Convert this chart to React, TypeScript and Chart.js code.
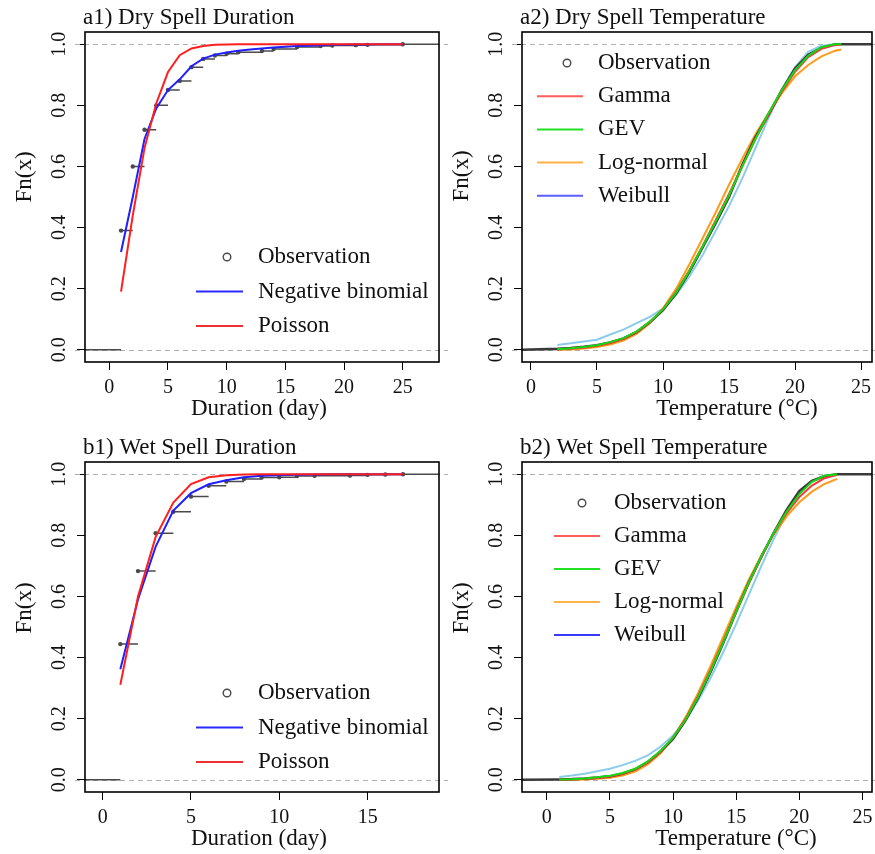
import React, { useEffect, useRef } from "react";
import { Chart, registerables } from "chart.js";
Chart.register(...registerables);

const FONT = '"Liberation Serif", "Times New Roman", serif';

// ---------------- data ----------------
const yTickValues = [0, 0.2, 0.4, 0.6, 0.8, 1.0];
const yTickLabels = ["0.0", "0.2", "0.4", "0.6", "0.8", "1.0"];
const dryDurTicks = [0, 5, 10, 15, 20, 25];
const wetDurTicks = [0, 5, 10, 15];
const tempTicks = [0, 5, 10, 15, 20, 25];

// a1) dry spell duration
const dryDurObsX = [1, 2, 3, 4, 5, 6, 7, 8, 9, 10, 11, 13, 14, 16, 18, 19, 21, 22, 25];
const dryDurObsF = [0.39, 0.60, 0.72, 0.80, 0.85, 0.88, 0.925, 0.952, 0.963, 0.969, 0.974, 0.978, 0.984, 0.991, 0.994, 0.996, 0.997, 0.998, 1.0];
const dryDurFitX = [1, 2, 3, 4, 5, 6, 7, 8, 9, 10, 11, 12, 13, 14, 15, 16, 17, 18, 19, 20, 21, 22, 23, 24, 25];
const dryDurNegBin = [0.32, 0.50, 0.69, 0.79, 0.85, 0.885, 0.928, 0.953, 0.966, 0.973, 0.979, 0.983, 0.986, 0.989, 0.992, 0.994, 0.995, 0.997, 0.998, 0.998, 0.999, 0.999, 1.0, 1.0, 1.0];
const dryDurPoisson = [0.19, 0.44, 0.66, 0.806, 0.909, 0.964, 0.986, 0.994, 0.998, 0.999, 1, 1, 1, 1, 1, 1, 1, 1, 1, 1, 1, 1, 1, 1, 1];

// b1) wet spell duration
const wetDurObsX = [1, 2, 3, 4, 5, 6, 7, 8, 9, 10, 11, 12, 14, 15, 16, 17];
const wetDurObsF = [0.444, 0.683, 0.807, 0.877, 0.927, 0.962, 0.976, 0.984, 0.989, 0.990, 0.994, 0.995, 0.996, 0.998, 0.999, 1.0];
const wetDurFitX = [1, 2, 3, 4, 5, 6, 7, 8, 9, 10, 11, 12, 13, 14, 15, 16, 17];
const wetDurNegBin = [0.362, 0.59, 0.763, 0.881, 0.938, 0.967, 0.98, 0.99, 0.995, 0.997, 0.998, 0.999, 1, 1, 1, 1, 1];
const wetDurPoisson = [0.311, 0.60, 0.795, 0.907, 0.968, 0.99, 0.997, 0.999, 1, 1, 1, 1, 1, 1, 1, 1, 1];

// a2) dry spell temperature
const dryTempX = [2, 3, 4, 5, 6, 7, 8, 9, 10, 11, 12, 13, 14, 15, 16, 17, 18, 19, 20, 21, 22, 23, 23.5];
const dryTempObs = [0.003, 0.006, 0.010, 0.015, 0.024, 0.037, 0.058, 0.090, 0.130, 0.185, 0.255, 0.335, 0.415, 0.500, 0.605, 0.695, 0.770, 0.850, 0.920, 0.965, 0.988, 0.999, 1.0];
const dryTempGamma = [0.001, 0.003, 0.007, 0.013, 0.022, 0.036, 0.058, 0.090, 0.133, 0.190, 0.260, 0.340, 0.425, 0.510, 0.600, 0.690, 0.770, 0.845, 0.910, 0.958, 0.985, 0.997, 0.999];
const dryTempGEV = [0.002, 0.005, 0.009, 0.015, 0.025, 0.038, 0.060, 0.092, 0.132, 0.188, 0.258, 0.338, 0.420, 0.505, 0.600, 0.690, 0.775, 0.850, 0.915, 0.962, 0.990, 1.0, 1.0];
const dryTempLogN = [0.000, 0.001, 0.004, 0.009, 0.017, 0.030, 0.052, 0.087, 0.136, 0.200, 0.280, 0.365, 0.450, 0.540, 0.625, 0.705, 0.775, 0.840, 0.895, 0.932, 0.960, 0.978, 0.983];
const dryTempWeib = [0.016, 0.021, 0.027, 0.033, 0.05, 0.066, 0.087, 0.108, 0.135, 0.18, 0.24, 0.31, 0.39, 0.47, 0.56, 0.66, 0.76, 0.85, 0.925, 0.975, 0.995, 1.0, 1.0];

// b2) wet spell temperature
const wetTempX = [1, 2, 3, 4, 5, 6, 7, 8, 9, 10, 11, 12, 13, 14, 15, 16, 17, 18, 19, 20, 21, 22, 23];
const wetTempObs = [0.001, 0.002, 0.004, 0.007, 0.011, 0.020, 0.034, 0.058, 0.092, 0.134, 0.195, 0.270, 0.355, 0.450, 0.550, 0.645, 0.730, 0.810, 0.883, 0.945, 0.978, 0.993, 1.0];
const wetTempGamma = [0.000, 0.001, 0.003, 0.006, 0.011, 0.020, 0.034, 0.057, 0.092, 0.138, 0.200, 0.275, 0.362, 0.455, 0.550, 0.643, 0.730, 0.808, 0.873, 0.925, 0.963, 0.987, 0.998];
const wetTempGEV = [0.001, 0.002, 0.004, 0.008, 0.013, 0.022, 0.036, 0.060, 0.094, 0.138, 0.197, 0.272, 0.358, 0.452, 0.550, 0.645, 0.732, 0.810, 0.878, 0.935, 0.975, 0.995, 1.0];
const wetTempLogN = [0.000, 0.000, 0.001, 0.003, 0.007, 0.014, 0.027, 0.050, 0.086, 0.137, 0.205, 0.285, 0.375, 0.470, 0.565, 0.655, 0.735, 0.805, 0.862, 0.908, 0.943, 0.968, 0.985];
const wetTempWeib = [0.009, 0.014, 0.020, 0.028, 0.036, 0.048, 0.062, 0.080, 0.108, 0.145, 0.195, 0.260, 0.335, 0.420, 0.510, 0.605, 0.700, 0.790, 0.870, 0.935, 0.978, 0.996, 1.0];

const durationLegend = ["Observation", "Negative binomial", "Poisson"];
const tempLegend = ["Observation", "Gamma", "GEV", "Log-normal", "Weibull"];

// ---------------- styles ----------------
const OBS_COLOR = "#4a4a4a";
const NB_COLOR = "#1f1fff";
const POIS_COLOR = "#ff1f1f";
const GAMMA_COLOR = "#ff3535";
const GEV_COLOR = "#14d814";
const LOGN_COLOR = "#ff9a1a";
const WEIB_COLOR = "#8ccbea";
const durationLegendColors = [OBS_COLOR, "#2a2aff", "#ee3030"];
const tempLegendColorsA = [OBS_COLOR, "#ff5c5c", "#22e022", "#ffb24a", "#5c5cff"];
const tempLegendColorsB = [OBS_COLOR, "#ff5c5c", "#22e022", "#ffb24a", "#3a3aff"];

const pts = (xs: number[], ys: number[]) => xs.map((x, i) => ({ x, y: ys[i] }));

function ecdfSegments(xs: number[], fs: number[], xMin: number, xMax: number) {
  const out: any[] = [{ x: xMin, y: 0 }, { x: xs[0], y: 0 }, { x: xs[0], y: null }];
  xs.forEach((x, i) => {
    const next = i < xs.length - 1 ? xs[i + 1] : xMax;
    out.push({ x, y: fs[i] }, { x: next, y: fs[i] }, { x: next, y: null });
  });
  return out;
}

const lineDs = (label: string, data: any[], color: string, width: number, order: number) => ({
  label,
  data,
  showLine: true,
  borderColor: color,
  backgroundColor: color,
  borderWidth: width,
  pointRadius: 0,
  tension: 0,
  spanGaps: false,
  order,
});

function durationDatasets(obsX: number[], obsF: number[], fitX: number[], nb: number[], pois: number[], xMin: number, xMax: number) {
  return [
    lineDs(durationLegend[2], pts(fitX, pois), POIS_COLOR, 2, 0),
    lineDs(durationLegend[1], pts(fitX, nb), NB_COLOR, 2, 1),
    {
      label: durationLegend[0],
      data: pts(obsX, obsF),
      showLine: false,
      pointRadius: 2.2,
      pointBorderWidth: 0,
      pointBackgroundColor: OBS_COLOR,
      order: 2,
    },
    lineDs(durationLegend[0] + " steps", ecdfSegments(obsX, obsF, xMin, xMax), OBS_COLOR, 1.5, 3),
  ];
}

function tempDatasets(xs: number[], obs: number[], gam: number[], gev: number[], logn: number[], weib: number[], xMin: number, xMax: number) {
  const obsData = [{ x: xMin, y: 0 }, ...pts(xs, obs), { x: xMax, y: 1 }];
  return [
    lineDs(tempLegend[2], pts(xs, gev), GEV_COLOR, 2, 0),
    lineDs(tempLegend[1], pts(xs, gam), GAMMA_COLOR, 2, 1),
    lineDs(tempLegend[0], obsData, "#3a3a3a", 2.6, 2),
    lineDs(tempLegend[3], pts(xs, logn), LOGN_COLOR, 2, 3),
    lineDs(tempLegend[4], pts(xs, weib), WEIB_COLOR, 2, 4),
  ];
}

type Panel = {
  key: string;
  cx: number; cy: number; cw: number; ch: number;
  L: number; T: number; R: number; B: number;
  xMin: number; xMax: number; xTicks: number[];
  title: string; xTitle: string; xTitleX: number; yTitleY: number;
  legend: { labels: string[]; colors: string[]; markerX: number; lineX0: number; lineX1: number; textX: number; y0: number; gap: number };
  datasets: any[];
};

const A1_XMIN = -2.07, A1_XMAX = 28.09;
const B1_XMIN = -1.0, B1_XMAX = 19.04;
const A2_XMIN = -0.68, A2_XMAX = 25.83;
const B2_XMIN = -1.96, B2_XMAX = 25.76;

const panels: Panel[] = [
  {
    key: "a1", cx: 0, cy: 0, cw: 460, ch: 427,
    L: 85, T: 32, R: 439, B: 362,
    xMin: A1_XMIN, xMax: A1_XMAX, xTicks: dryDurTicks,
    title: "a1) Dry Spell Duration", xTitle: "Duration (day)", xTitleX: 259, yTitleY: 177,
    legend: { labels: durationLegend, colors: durationLegendColors, markerX: 227, lineX0: 196, lineX1: 243, textX: 258, y0: 257, gap: 34.5 },
    datasets: durationDatasets(dryDurObsX, dryDurObsF, dryDurFitX, dryDurNegBin, dryDurPoisson, A1_XMIN, A1_XMAX),
  },
  {
    key: "a2", cx: 437, cy: 0, cw: 438, ch: 427,
    L: 522, T: 32, R: 872, B: 362,
    xMin: A2_XMIN, xMax: A2_XMAX, xTicks: tempTicks,
    title: "a2) Dry Spell Temperature", xTitle: "Temperature (°C)", xTitleX: 737, yTitleY: 176,
    legend: { labels: tempLegend, colors: tempLegendColorsA, markerX: 567, lineX0: 537, lineX1: 583, textX: 598, y0: 63, gap: 33.2 },
    datasets: tempDatasets(dryTempX, dryTempObs, dryTempGamma, dryTempGEV, dryTempLogN, dryTempWeib, A2_XMIN, A2_XMAX),
  },
  {
    key: "b1", cx: 0, cy: 427, cw: 460, ch: 427,
    L: 85, T: 462, R: 439, B: 792,
    xMin: B1_XMIN, xMax: B1_XMAX, xTicks: wetDurTicks,
    title: "b1) Wet Spell Duration", xTitle: "Duration (day)", xTitleX: 259, yTitleY: 608,
    legend: { labels: durationLegend, colors: durationLegendColors, markerX: 227, lineX0: 196, lineX1: 243, textX: 258, y0: 693, gap: 34.5 },
    datasets: durationDatasets(wetDurObsX, wetDurObsF, wetDurFitX, wetDurNegBin, wetDurPoisson, B1_XMIN, B1_XMAX),
  },
  {
    key: "b2", cx: 437, cy: 427, cw: 438, ch: 427,
    L: 522, T: 462, R: 872, B: 792,
    xMin: B2_XMIN, xMax: B2_XMAX, xTicks: tempTicks,
    title: "b2) Wet Spell Temperature", xTitle: "Temperature (°C)", xTitleX: 736, yTitleY: 608,
    legend: { labels: tempLegend, colors: tempLegendColorsB, markerX: 582, lineX0: 554, lineX1: 600, textX: 614, y0: 503, gap: 33 },
    datasets: tempDatasets(wetTempX, wetTempObs, wetTempGamma, wetTempGEV, wetTempLogN, wetTempWeib, B2_XMIN, B2_XMAX),
  },
];

function decorPlugin(p: Panel) {
  return {
    id: "decor_" + p.key,
    beforeDatasetsDraw(chart: any) {
      const { ctx, chartArea: a } = chart;
      const y = chart.scales.y;
      ctx.save();
      ctx.strokeStyle = "#b0b0b0";
      ctx.lineWidth = 1;
      ctx.setLineDash([5, 4]);
      for (const v of [0, 1]) {
        const py = Math.round(y.getPixelForValue(v)) + 0.5;
        ctx.beginPath();
        ctx.moveTo(a.left - 10, py);
        ctx.lineTo(a.right + 9, py);
        ctx.stroke();
      }
      ctx.restore();
    },
    afterDraw(chart: any) {
      const { ctx, chartArea: a } = chart;
      const x = chart.scales.x;
      const y = chart.scales.y;
      ctx.save();
      // box
      ctx.strokeStyle = "#000";
      ctx.lineWidth = 1.6;
      ctx.strokeRect(a.left, a.top, a.right - a.left, a.bottom - a.top);
      ctx.fillStyle = "#111";
      // x tick labels
      ctx.font = `20px ${FONT}`;
      ctx.textAlign = "center";
      ctx.textBaseline = "middle";
      x.ticks.forEach((t: any) => {
        ctx.fillText(String(t.value), x.getPixelForValue(t.value), a.bottom + 25.5);
      });
      // y tick labels (rotated)
      y.ticks.forEach((t: any, i: number) => {
        const idx = yTickValues.indexOf(t.value);
        const lab = idx >= 0 ? yTickLabels[idx] : String(t.value);
        ctx.save();
        ctx.translate(a.left - 25, y.getPixelForValue(t.value));
        ctx.rotate(-Math.PI / 2);
        ctx.fillText(lab, 0, 0);
        ctx.restore();
      });
      // axis titles
      ctx.font = `23px ${FONT}`;
      ctx.fillText(p.xTitle, p.xTitleX - p.cx, a.bottom + 47);
      ctx.save();
      ctx.translate(a.left - 60, p.yTitleY - p.cy);
      ctx.rotate(-Math.PI / 2);
      ctx.fillText("Fn(x)", 0, 0);
      ctx.restore();
      // panel title
      ctx.textAlign = "left";
      ctx.textBaseline = "alphabetic";
      ctx.fillText(p.title, a.left - 2, a.top - 8);
      // legend
      const lg = p.legend;
      ctx.textBaseline = "middle";
      lg.labels.forEach((lab, i) => {
        const yy = lg.y0 - p.cy + i * lg.gap;
        if (i === 0) {
          ctx.beginPath();
          ctx.strokeStyle = lg.colors[0];
          ctx.lineWidth = 1.4;
          ctx.arc(lg.markerX - p.cx, yy, 3.8, 0, Math.PI * 2);
          ctx.stroke();
        } else {
          ctx.beginPath();
          ctx.strokeStyle = lg.colors[i];
          ctx.lineWidth = 2;
          ctx.moveTo(lg.lineX0 - p.cx, yy);
          ctx.lineTo(lg.lineX1 - p.cx, yy);
          ctx.stroke();
        }
        ctx.fillStyle = "#111";
        ctx.fillText(lab, lg.textX - p.cx, yy);
      });
      ctx.restore();
    },
  };
}

function buildConfig(p: Panel): any {
  const l = p.L - p.cx, t = p.T - p.cy, r = p.R - p.cx, b = p.B - p.cy;
  const gridOpts = { drawOnChartArea: false, drawTicks: true, tickLength: 8, color: "#000", lineWidth: 1 };
  return {
    type: "scatter",
    data: { datasets: p.datasets },
    options: {
      animation: false,
      responsive: false,
      maintainAspectRatio: false,
      events: [],
      layout: { autoPadding: false, padding: { left: 0, top: t, right: p.cw - r, bottom: 0 } },
      plugins: { legend: { display: false }, tooltip: { enabled: false }, title: { display: false } },
      scales: {
        x: {
          type: "linear",
          min: p.xMin,
          max: p.xMax,
          afterBuildTicks: (s: any) => { s.ticks = p.xTicks.map((v) => ({ value: v })); },
          afterFit: (s: any) => { s.height = p.ch - b; },
          ticks: { display: false },
          grid: gridOpts,
          border: { display: false },
        },
        y: {
          type: "linear",
          min: -0.04,
          max: 1.04,
          afterBuildTicks: (s: any) => { s.ticks = yTickValues.map((v) => ({ value: v })); },
          afterFit: (s: any) => { s.width = l; },
          ticks: { display: false },
          grid: gridOpts,
          border: { display: false },
        },
      },
    },
    plugins: [decorPlugin(p)],
  };
}

function PanelChart({ p }: { p: Panel }) {
  const ref = useRef<HTMLCanvasElement>(null);
  useEffect(() => {
    const chart = new Chart(ref.current as HTMLCanvasElement, buildConfig(p));
    return () => chart.destroy();
  }, []);
  return (
    <canvas
      ref={ref}
      width={p.cw}
      height={p.ch}
      style={{ position: "absolute", left: p.cx, top: p.cy, width: p.cw, height: p.ch }}
    />
  );
}

export default function App() {
  return (
    <div style={{ position: "absolute", left: 0, top: 0, width: 875, height: 854, background: "#fff", overflow: "hidden" }}>
      {panels.map((p) => (
        <PanelChart key={p.key} p={p} />
      ))}
    </div>
  );
}
